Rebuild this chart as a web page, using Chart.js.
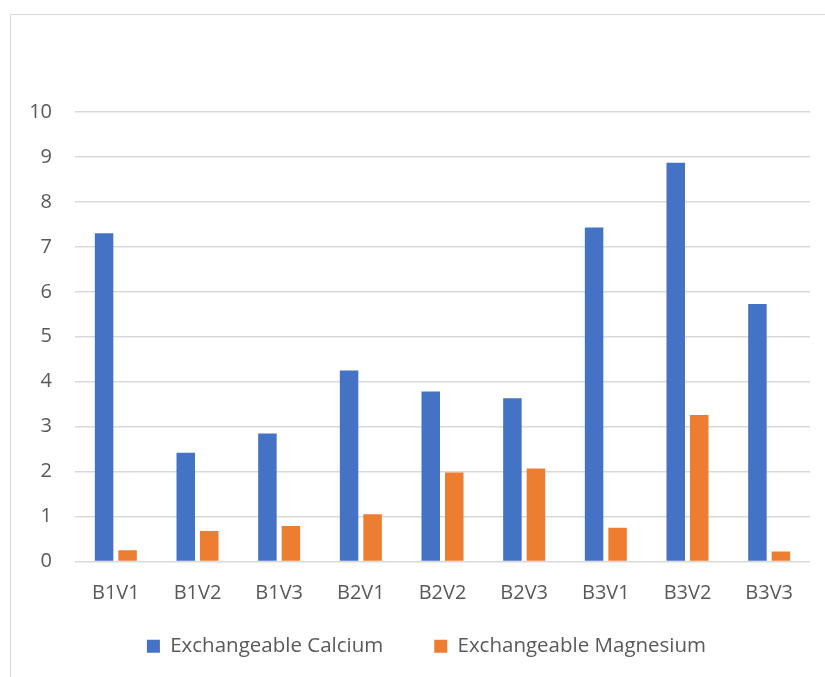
<!DOCTYPE html>
<html>
<head>
<meta charset="utf-8">
<script src="https://cdn.jsdelivr.net/npm/chart.js@4"></script>
<style>
  html, body { margin: 0; padding: 0; background: #ffffff; }
  #wrap { position: relative; width: 825px; height: 677px; overflow: hidden; }
  #frame { position: absolute; left: 10px; top: 14px; width: 900px; height: 700px; border: 1px solid #d9d9d9; box-sizing: border-box; }
  #c { position: absolute; left: 0; top: 0; }
</style>
</head>
<body>
<div id="wrap">
  <div id="frame"></div>
  <canvas id="c" width="825" height="677"></canvas>
</div>
<script>
const categories = ['B1V1', 'B1V2', 'B1V3', 'B2V1', 'B2V2', 'B2V3', 'B3V1', 'B3V2', 'B3V3'];
const calcium = [7.30, 2.42, 2.85, 4.25, 3.78, 3.63, 7.43, 8.87, 5.73];
const magnesium = [0.25, 0.68, 0.79, 1.05, 1.98, 2.07, 0.75, 3.26, 0.22];
const seriesNames = ['Exchangeable Calcium', 'Exchangeable Magnesium'];
const yTicks = [0, 1, 2, 3, 4, 5, 6, 7, 8, 9, 10];

const FONT = { family: "'Open Sans', 'DejaVu Sans', sans-serif", size: 20 };
const LEGEND_FONT = { family: "'Open Sans', 'DejaVu Sans', sans-serif", size: 20.5 };
const TEXT = '#595959';

// let tick labels draw outside their (deliberately narrow) axis boxes
const noLabelClip = (s) => { s._computeLabelArea = () => undefined; };

new Chart(document.getElementById('c'), {
  type: 'bar',
  data: {
    labels: categories,
    datasets: [
      { label: seriesNames[0], data: calcium, backgroundColor: '#4472C4', borderWidth: 0,
        categoryPercentage: 0.5755, barPercentage: 0.787 },
      { label: seriesNames[1], data: magnesium, backgroundColor: '#ED7D31', borderWidth: 0,
        categoryPercentage: 0.5755, barPercentage: 0.787 }
    ]
  },
  options: {
    responsive: false,
    animation: false,
    devicePixelRatio: 1,
    layout: { padding: { left: 43, right: 15, top: 112, bottom: 10.5 } },
    plugins: {
      title: { display: false },
      tooltip: { enabled: false },
      legend: {
        display: true,
        position: 'bottom',
        align: 'center',
        labels: {
          boxWidth: 13, boxHeight: 13,
          padding: 51,
          color: TEXT,
          font: LEGEND_FONT
        }
      }
    },
    scales: {
      x: {
        grid: { display: false, drawTicks: false },
        border: { display: false },
        ticks: { color: TEXT, font: FONT, padding: 20, maxRotation: 0, autoSkip: false },
        afterFit: (s) => { s.height = 23.5; noLabelClip(s); }
      },
      y: {
        min: 0, max: 10,
        afterBuildTicks: (s) => { s.ticks = yTicks.map(v => ({ value: v })); },
        grid: { color: '#d9d9d9', lineWidth: 1.5, drawTicks: false },
        border: { display: false },
        ticks: { color: TEXT, font: FONT, padding: 23 },
        afterFit: (s) => { s.width = 32; noLabelClip(s); }
      }
    }
  }
});
</script>
</body>
</html>
